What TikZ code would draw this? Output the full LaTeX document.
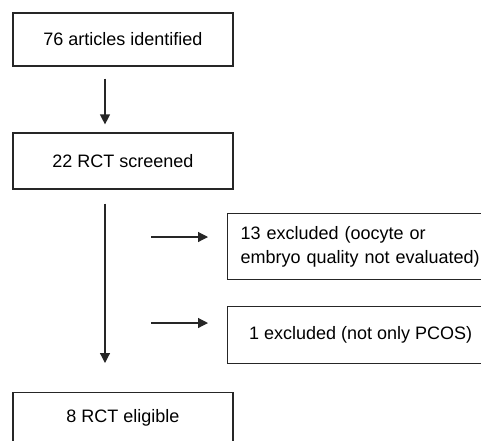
\documentclass[tikz,border=0pt]{standalone}
\usepackage{fontspec}
\setmainfont{Liberation Sans}
\usetikzlibrary{arrows.meta}

\tikzset{
  stagebox/.style={draw=black!85,line width=1.2pt,minimum width=220pt,inner sep=0pt,
    font=\fontsize{18}{24}\selectfont},
  sidebox/.style={stagebox,anchor=north west,minimum width=266pt},
  flow/.style={draw=black!85,line width=1.2pt,-{Triangle[length=10pt,width=10pt]}}
}

\begin{document}
\begin{tikzpicture}[x=1pt,y=-1pt,line cap=butt]
  \useasboundingbox (0,0) rectangle (481,440);
  \clip (0,0) rectangle (481,440);

  \node[stagebox,minimum height=53pt] (found) at (123,39.5) {76 articles identified};
  \node[stagebox,minimum height=56pt] (screen) at (123,161) {22 RCT screened};
  \node[sidebox,minimum height=66pt,align=left,text width=240pt,inner xsep=13pt]
    (quality) at (227,213) {13 excluded (oocyte or\\embryo quality not evaluated)};
  \node[sidebox,minimum height=57pt] (mixed) at (227,306) {1 excluded (not only PCOS)};
  \node[stagebox,anchor=north,minimum height=50pt] (eligible) at (123,392) {8 RCT eligible};

  \coordinate (spine) at (105,0);
  \coordinate (tapq) at (151,237);
  \coordinate (tapm) at (151,323);

  \draw[flow,shorten <=12pt,shorten >=8pt] (found.south -| spine) -- (screen.north -| spine);
  \draw[flow,shorten <=14pt,shorten >=29pt] (screen.south -| spine) -- (eligible.north -| spine);
  \draw[flow,shorten >=19pt] (tapq) -- (tapq -| quality.west);
  \draw[flow,shorten >=19pt] (tapm) -- (tapm -| mixed.west);
\end{tikzpicture}
\end{document}
